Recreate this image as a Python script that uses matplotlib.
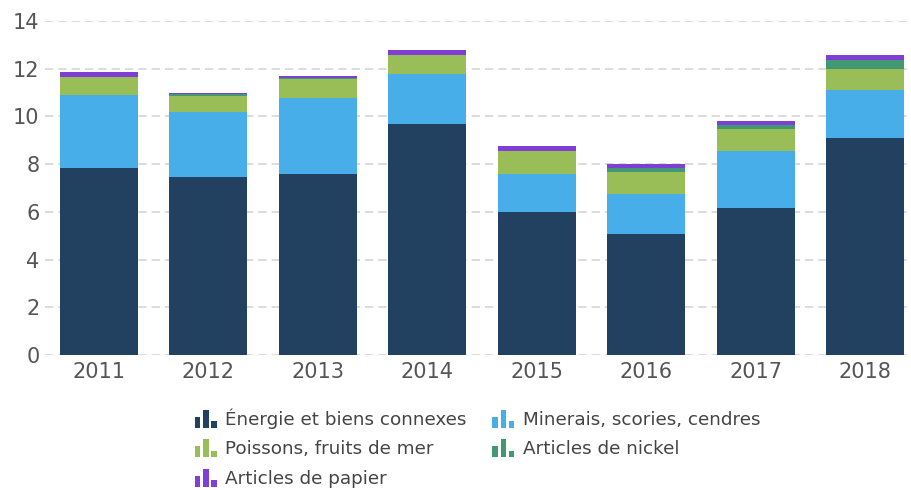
import os
import matplotlib
matplotlib.use("Agg")
import matplotlib.pyplot as plt
from matplotlib import font_manager as fm
from matplotlib.patches import Rectangle
from matplotlib.legend_handler import HandlerBase
import numpy as np

plt.rcParams["font.family"] = ["DejaVu Sans"]

years = ["2011", "2012", "2013", "2014", "2015", "2016", "2017", "2018"]
energie = [7.85, 7.47, 7.60, 9.70, 6.01, 5.09, 6.18, 9.10]
minerais = [3.05, 2.72, 3.17, 2.07, 1.59, 1.67, 2.39, 2.01]
poissons = [0.75, 0.68, 0.81, 0.80, 0.93, 0.92, 0.91, 0.87]
nickel = [0.00, 0.05, 0.05, 0.00, 0.04, 0.17, 0.17, 0.38]
papier = [0.21, 0.06, 0.06, 0.21, 0.20, 0.17, 0.16, 0.21]

labels = ["Énergie et biens connexes", "Minerais, scories, cendres",
          "Poissons, fruits de mer", "Articles de nickel", "Articles de papier"]
colors = ["#22405f", "#48aeea", "#99bd57", "#429873", "#7f3fd4"]
series = [energie, minerais, poissons, nickel, papier]

fig = plt.figure(figsize=(9.12, 4.9), dpi=100)
ax = fig.add_axes([45/912, 135/490, (910-45)/912, (469-135)/490])

x = np.arange(len(years))
bottom = np.zeros(len(years))
bars = []
for vals, c in zip(series, colors):
    b = ax.bar(x, vals, width=0.713, bottom=bottom, color=c, zorder=3, linewidth=0)
    bars.append(b)
    bottom += np.array(vals)

ax.set_xlim(-0.493, 7.41)
ax.set_ylim(0, 14)
ax.set_yticks(range(0, 15, 2))
ax.set_xticks(x)
ax.set_xticklabels(years)
ax.yaxis.grid(True, color="#d6d6d6", linestyle=(0, (5, 3)), linewidth=1.2, zorder=0)
for s in ax.spines.values():
    s.set_visible(False)
ax.tick_params(axis="both", length=0, labelsize=15, colors="#555555")
ax.tick_params(axis="x", pad=5)
ax.tick_params(axis="y", pad=4)


class BarIconHandler(HandlerBase):
    def create_artists(self, legend, orig_handle, xdescent, ydescent, width, height, fontsize, trans):
        c = orig_handle.patches[0].get_facecolor()
        bw = width * 0.25
        gap = width * 0.125
        hs = [0.62, 1.0, 0.38]
        H = height * 1.4
        arts = []
        y0 = -ydescent - height * 0.25
        for i, h in enumerate(hs):
            r = Rectangle((-xdescent + i * (bw + gap), y0), bw, H * h,
                          facecolor=c, edgecolor="none", transform=trans)
            arts.append(r)
        return arts


order = [0, 2, 4, 1, 3]
leg = fig.legend([bars[i] for i in order], [labels[i] for i in order],
                 loc="upper left", bbox_to_anchor=(195/912, 1 - 408/490), ncol=2,
                 frameon=False, fontsize=13.2, handler_map={type(bars[0]): BarIconHandler()},
                 handlelength=1.2, handletextpad=0.45, columnspacing=1.4, labelspacing=0.64,
                 borderaxespad=0, borderpad=0)
for t in leg.get_texts():
    t.set_color("#444444")

fig.savefig("out.png", dpi=100)
